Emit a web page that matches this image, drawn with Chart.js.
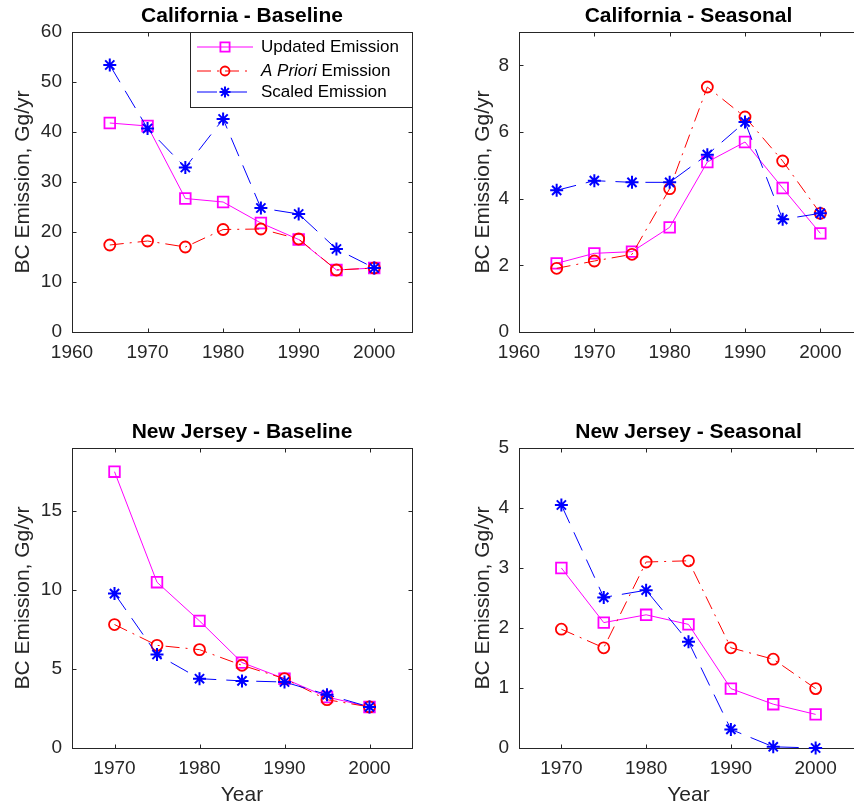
<!DOCTYPE html>
<html>
<head>
<meta charset="utf-8">
<title>BC Emission</title>
<script src="https://cdn.jsdelivr.net/npm/chart.js@4.4.0/dist/chart.umd.min.js"></script>
<style>
  html, body { margin: 0; padding: 0; background: #fff; overflow: hidden; width: 854px; height: 809px; }
  .panel { position: absolute; }
  .panel canvas { display: block; }
</style>
</head>
<body>
<div class="panel" style="left:0px;top:0px"><canvas id="caBase" width="430" height="380"></canvas></div>
<div class="panel" style="left:460px;top:0px"><canvas id="caSeas" width="416" height="380"></canvas></div>
<div class="panel" style="left:0px;top:416px"><canvas id="njBase" width="430" height="393"></canvas></div>
<div class="panel" style="left:460px;top:416px"><canvas id="njSeas" width="416" height="393"></canvas></div>
<script>
// Years
const yearsCA = [1965, 1970, 1975, 1980, 1985, 1990, 1995, 2000];
const yearsNJ = [1970, 1975, 1980, 1985, 1990, 1995, 2000];

// California - Baseline (Gg/yr)
const caBaseUpdated = [41.8, 41.2, 26.7, 26.0, 21.8, 18.5, 12.4, 12.8];
const caBasePriori  = [17.4, 18.2, 17.0, 20.5, 20.6, 18.6, 12.4, 12.8];
const caBaseScaled  = [53.4, 40.7, 32.9, 42.6, 24.8, 23.6, 16.6, 12.8];

// California - Seasonal
const caSeasUpdated = [2.06, 2.36, 2.41, 3.14, 5.10, 5.70, 4.32, 2.96];
const caSeasPriori  = [1.91, 2.13, 2.33, 4.30, 7.35, 6.45, 5.13, 3.56];
const caSeasScaled  = [4.25, 4.54, 4.49, 4.49, 5.32, 6.30, 3.38, 3.56];

// New Jersey - Baseline
const njBaseUpdated = [17.5, 10.5, 8.05, 5.41, 4.39, 3.23, 2.60];
const njBasePriori  = [7.82, 6.50, 6.23, 5.24, 4.39, 3.06, 2.60];
const njBaseScaled  = [9.78, 5.92, 4.39, 4.25, 4.18, 3.38, 2.60];

// New Jersey - Seasonal
const njSeasUpdated = [3.00, 2.09, 2.22, 2.06, 0.99, 0.73, 0.56];
const njSeasPriori  = [1.98, 1.67, 3.10, 3.12, 1.67, 1.48, 0.99];
const njSeasScaled  = [4.05, 2.51, 2.63, 1.77, 0.31, 0.02, 0.00];

// Tick labels
const xTicksCA = [1960, 1970, 1980, 1990, 2000];
const xTicksNJ = [1970, 1980, 1990, 2000];
const yTicksCABase = [0, 10, 20, 30, 40, 50, 60];
const yTicksCASeas = [0, 2, 4, 6, 8];
const yTicksNJBase = [0, 5, 10, 15];
const yTicksNJSeas = [0, 1, 2, 3, 4, 5];

const seriesLabels = ['Updated Emission', 'A Priori Emission', 'Scaled Emission'];

const AXIS_COLOR = '#262626';
const FONT = "'Liberation Sans', Arial, Helvetica, sans-serif";
const TICK_LEN = 4;

function makeDatasets(years, updated, priori, scaled) {
    const pts = arr => years.map((x, i) => ({ x: x, y: arr[i] }));
    return [
        {
            label: seriesLabels[0], data: pts(updated),
            borderColor: '#ff00ff', borderWidth: 1, borderDash: [],
            pointStyle: 'rect', pointRadius: 7.5, pointBorderWidth: 1.8,
            pointBorderColor: '#ff00ff', pointBackgroundColor: 'rgba(0,0,0,0)',
            tension: 0, clip: false, order: 3
        },
        {
            label: seriesLabels[1], data: pts(priori),
            borderColor: '#ff0000', borderWidth: 1, borderDash: [14, 6, 2, 6],
            pointStyle: 'circle', pointRadius: 5.5, pointBorderWidth: 1.8,
            pointBorderColor: '#ff0000', pointBackgroundColor: 'rgba(0,0,0,0)',
            tension: 0, clip: false, order: 2
        },
        {
            label: seriesLabels[2], data: pts(scaled),
            borderColor: '#0000ff', borderWidth: 1, borderDash: [20, 10],
            pointStyle: 'star', pointRadius: 6.5, pointBorderWidth: 2,
            pointBorderColor: '#0000ff', pointBackgroundColor: 'rgba(0,0,0,0)',
            tension: 0, clip: false, order: 1
        }
    ];
}

// MATLAB-like box with inward ticks on all four sides
const boxPlugin = {
    id: 'matlabBox',
    beforeDatasetsDraw(chart) {
        const { ctx, chartArea: a, scales } = chart;
        const L = Math.round(a.left) + 0.5, R = Math.round(a.right) + 0.5;
        const T = Math.round(a.top) + 0.5, B = Math.round(a.bottom) + 0.5;
        ctx.save();
        ctx.strokeStyle = AXIS_COLOR;
        ctx.lineWidth = 1;
        ctx.beginPath();
        scales.x.ticks.forEach(t => {
            const px = Math.round(scales.x.getPixelForValue(t.value)) + 0.5;
            ctx.moveTo(px, B); ctx.lineTo(px, B - TICK_LEN);
            ctx.moveTo(px, T); ctx.lineTo(px, T + TICK_LEN);
        });
        scales.y.ticks.forEach(t => {
            const py = Math.round(scales.y.getPixelForValue(t.value)) + 0.5;
            ctx.moveTo(L, py); ctx.lineTo(L + TICK_LEN, py);
            ctx.moveTo(R, py); ctx.lineTo(R - TICK_LEN, py);
        });
        ctx.stroke();
        ctx.strokeRect(L, T, R - L, B - T);
        ctx.restore();
    }
};

// Legend boxed in the upper right corner of the plot area
const legendPlugin = {
    id: 'insetLegend',
    afterDatasetsDraw(chart, args, opts) {
        if (!opts.show) return;
        const { ctx, chartArea: a } = chart;
        const w = 222, h = 75;
        const x0 = Math.round(a.right) - w, y0 = Math.round(a.top);
        ctx.save();
        ctx.fillStyle = '#fff';
        ctx.fillRect(x0, y0, w, h);
        ctx.strokeStyle = AXIS_COLOR;
        ctx.lineWidth = 1;
        ctx.strokeRect(x0 + 0.5, y0 + 0.5, w, h);
        const rows = [15, 39, 60];
        chart.data.datasets.forEach((ds, i) => {
            const y = y0 + rows[i];
            ctx.strokeStyle = ds.borderColor;
            ctx.lineWidth = ds.borderWidth;
            ctx.setLineDash(ds.borderDash);
            ctx.beginPath();
            ctx.moveTo(x0 + 7, y); ctx.lineTo(x0 + 63, y);
            ctx.stroke();
            ctx.setLineDash([]);
            ctx.strokeStyle = ds.pointBorderColor;
            ctx.fillStyle = 'rgba(0,0,0,0)';
            ctx.lineWidth = ds.pointBorderWidth;
            Chart.helpers.drawPoint(ctx, {
                pointStyle: ds.pointStyle, radius: ds.pointRadius - 1, rotation: 0,
                borderWidth: ds.pointBorderWidth
            }, x0 + 35, y);

            ctx.fillStyle = '#000';
            ctx.textBaseline = 'middle';
            ctx.textAlign = 'left';
            let tx = x0 + 71;
            const label = ds.label;
            if (label.startsWith('A Priori')) {
                ctx.font = 'italic 17px ' + FONT;
                ctx.fillText('A Priori', tx, y);
                tx += ctx.measureText('A Priori').width;
                ctx.font = '17px ' + FONT;
                ctx.fillText(label.slice(8), tx, y);
            } else {
                ctx.font = '17px ' + FONT;
                ctx.fillText(label, tx, y);
            }
        });
        ctx.restore();
    }
};

function makeChart(canvasId, cfg) {
    return new Chart(document.getElementById(canvasId), {
        type: 'line',
        data: { datasets: makeDatasets(cfg.years, cfg.updated, cfg.priori, cfg.scaled) },
        options: {
            responsive: false,
            animation: false,
            layout: { padding: { left: 0, right: 18, top: 0, bottom: 0 } },
            plugins: {
                legend: { display: false },
                tooltip: { enabled: false },
                title: {
                    display: true, text: cfg.title, fullSize: false, color: '#000',
                    font: { family: FONT, size: 21, weight: 'bold', lineHeight: '20px' },
                    padding: { top: 6, bottom: 6 }
                },
                insetLegend: { show: !!cfg.legend }
            },
            scales: {
                x: {
                    type: 'linear', min: cfg.xMin, max: cfg.xMax,
                    grid: { display: false, drawTicks: false },
                    border: { display: false },
                    afterBuildTicks: s => { s.ticks = cfg.xTicks.map(v => ({ value: v })); },
                    afterFit: s => { s.height = cfg.xAxisHeight; },
                    ticks: {
                        color: AXIS_COLOR, padding: 9, maxRotation: 0, autoSkip: false,
                        font: { family: FONT, size: 19 },
                        callback: v => String(v)
                    },
                    title: {
                        display: !!cfg.xTitle, text: cfg.xTitle || '', color: AXIS_COLOR,
                        font: { family: FONT, size: 21, lineHeight: '22px' },
                        padding: { top: 0, bottom: 3 }
                    }
                },
                y: {
                    type: 'linear', min: 0, max: cfg.yMax,
                    grid: { display: false, drawTicks: false },
                    border: { display: false },
                    afterBuildTicks: s => { s.ticks = cfg.yTicks.map(v => ({ value: v })); },
                    afterFit: s => { s.width = cfg.yAxisWidth; },
                    ticks: {
                        color: AXIS_COLOR, padding: 10, autoSkip: false,
                        font: { family: FONT, size: 19 },
                        callback: v => String(v)
                    },
                    title: {
                        display: true, text: 'BC Emission, Gg/yr', color: AXIS_COLOR,
                        font: { family: FONT, size: 21, lineHeight: '22px' },
                        padding: { top: 12, bottom: 0 }
                    }
                }
            }
        },
        plugins: [boxPlugin, legendPlugin]
    });
}

makeChart('caBase', {
    title: 'California - Baseline', years: yearsCA,
    updated: caBaseUpdated, priori: caBasePriori, scaled: caBaseScaled,
    xMin: 1960, xMax: 2005, xTicks: xTicksCA, yMax: 60, yTicks: yTicksCABase,
    yAxisWidth: 72, xAxisHeight: 48, legend: true
});
makeChart('caSeas', {
    title: 'California - Seasonal', years: yearsCA,
    updated: caSeasUpdated, priori: caSeasPriori, scaled: caSeasScaled,
    xMin: 1960, xMax: 2005, xTicks: xTicksCA, yMax: 9, yTicks: yTicksCASeas,
    yAxisWidth: 59, xAxisHeight: 48
});
makeChart('njBase', {
    title: 'New Jersey - Baseline', years: yearsNJ,
    updated: njBaseUpdated, priori: njBasePriori, scaled: njBaseScaled,
    xMin: 1965, xMax: 2005, xTicks: xTicksNJ, yMax: 19, yTicks: yTicksNJBase,
    yAxisWidth: 72, xAxisHeight: 61, xTitle: 'Year'
});
makeChart('njSeas', {
    title: 'New Jersey - Seasonal', years: yearsNJ,
    updated: njSeasUpdated, priori: njSeasPriori, scaled: njSeasScaled,
    xMin: 1965, xMax: 2005, xTicks: xTicksNJ, yMax: 5, yTicks: yTicksNJSeas,
    yAxisWidth: 59, xAxisHeight: 61, xTitle: 'Year'
});
</script>
</body>
</html>
